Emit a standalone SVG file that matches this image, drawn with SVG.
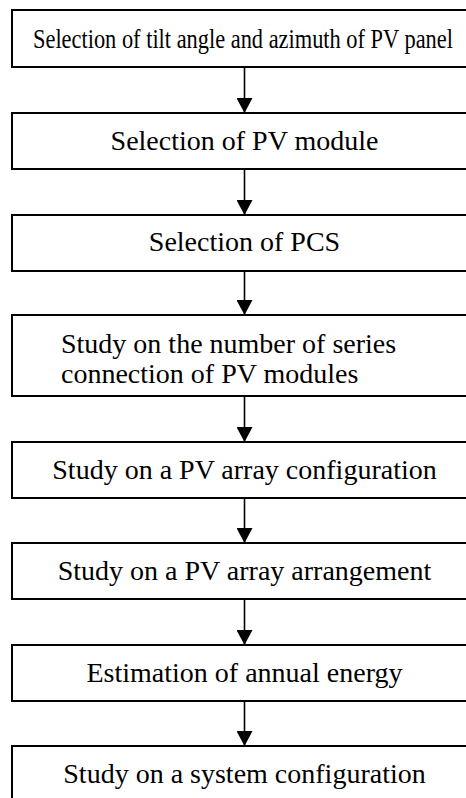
<svg xmlns="http://www.w3.org/2000/svg" width="466" height="798" viewBox="0 0 466 798">
<style>
.box{fill:#fff;stroke:#000;stroke-width:2}
.t{font-family:"Liberation Serif","Times New Roman",serif;font-size:28px;fill:#000;text-anchor:middle}
.tl{font-family:"Liberation Serif","Times New Roman",serif;font-size:28px;fill:#000}
.c{stroke:#000;stroke-width:1.6;fill:none;marker-end:url(#ah)}
</style>
<defs>
<marker id="ah" markerUnits="userSpaceOnUse" markerWidth="15" markerHeight="16" viewBox="0 0 15 16" refX="15" refY="8" orient="auto">
<path d="M0,0 L15,8 L0,16 Z" fill="#000"/>
</marker>
</defs>
<rect width="466" height="798" fill="#fff"/>
<g id="connectors">
<path class="c" d="M244.5,67 V113"/>
<path class="c" d="M244.5,169 V215"/>
<path class="c" d="M244.5,271 V315"/>
<path class="c" d="M244.5,396 V442"/>
<path class="c" d="M244.5,498 V543"/>
<path class="c" d="M244.5,599 V645"/>
<path class="c" d="M244.5,701 V746"/>
</g>
<g id="n1"><rect class="box" x="12" y="10" width="470" height="57"/><text class="tl" transform="translate(33,48) scale(0.8,1)" x="0" y="0" font-size="27">Selection of tilt angle and azimuth of PV panel</text></g>
<g id="n2"><rect class="box" x="12" y="113" width="470" height="56"/><text class="t" x="244.5" y="150">Selection of PV module</text></g>
<g id="n3"><rect class="box" x="12" y="215" width="470" height="56"/><text class="t" x="244.5" y="251">Selection of PCS</text></g>
<g id="n4"><rect class="box" x="12" y="315" width="470" height="81"/><text class="tl" x="61" y="353">Study on the number of series</text><text class="tl" x="61" y="383">connection of PV modules</text></g>
<g id="n5"><rect class="box" x="12" y="442" width="470" height="56"/><text class="t" x="244.5" y="479">Study on a PV array configuration</text></g>
<g id="n6"><rect class="box" x="12" y="543" width="470" height="56"/><text class="t" x="244.5" y="580">Study on a PV array arrangement</text></g>
<g id="n7"><rect class="box" x="12" y="645" width="470" height="56"/><text class="t" x="244.5" y="682">Estimation of annual energy</text></g>
<g id="n8"><rect class="box" x="12" y="746" width="470" height="60"/><text class="t" x="244.5" y="783">Study on a system configuration</text></g>
</svg>
